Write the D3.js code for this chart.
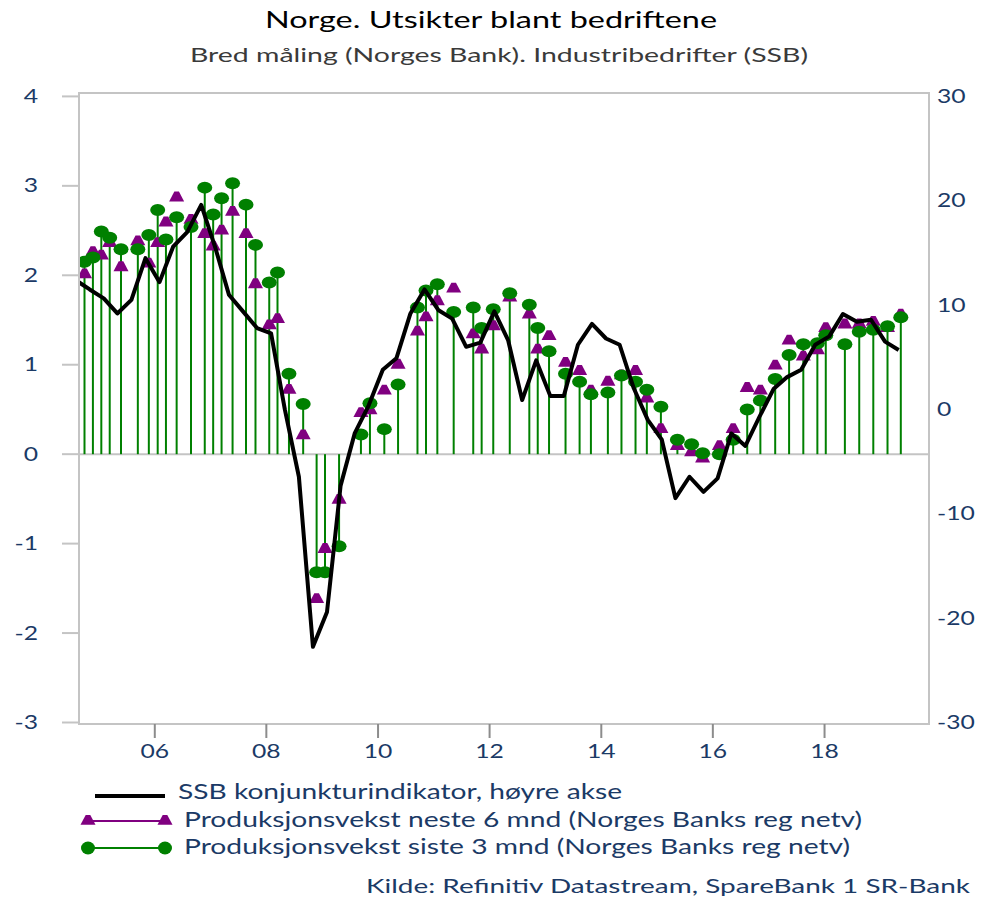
<!DOCTYPE html>
<html>
<head>
<meta charset="utf-8">
<script src="https://cdn.jsdelivr.net/npm/d3@7"></script>
<style>
  body { margin: 0; background: #fff; }
  svg text { font-family: Lato, "Open Sans", sans-serif; }
</style>
</head>
<body>
<svg id="chart"></svg>
<script>
// Norges Bank regionalt nettverk, runder
const roundDates = [
  '2004-09-28', '2004-11-22', '2005-01-16', '2005-03-12', '2005-05-25', '2005-09-12', '2005-11-23',
  '2006-01-20', '2006-03-15', '2006-05-24', '2006-08-26', '2006-11-24',
  '2007-01-18', '2007-03-14', '2007-05-25', '2007-08-21', '2007-10-22',
  '2008-01-20', '2008-03-14', '2008-05-28', '2008-08-29', '2008-11-25',
  '2009-01-19', '2009-04-21', '2009-09-11', '2009-11-09',
  '2010-02-11', '2010-05-12', '2010-09-16', '2010-11-11',
  '2011-01-24', '2011-05-11', '2011-09-16', '2011-11-10',
  '2012-01-25', '2012-05-12', '2012-09-17', '2012-11-11',
  '2013-01-24', '2013-05-12', '2013-08-12', '2013-10-25',
  '2014-02-13', '2014-05-13', '2014-08-13', '2014-10-26',
  '2015-01-26', '2015-05-14', '2015-08-15', '2015-10-26',
  '2016-02-13', '2016-05-13', '2016-08-13', '2016-11-07',
  '2017-02-12', '2017-05-14', '2017-08-15', '2017-11-15',
  '2018-01-09', '2018-05-14', '2018-08-16', '2018-11-16',
  '2019-02-17', '2019-05-15'
]
// produksjonsvekst siste 3 mnd
const siste3 = [
  2.15, 2.20, 2.49, 2.42, 2.29, 2.29, 2.45,
  2.73, 2.40, 2.65, 2.54, 2.98,
  2.68, 2.86, 3.03, 2.79, 2.34,
  1.92, 2.03, 0.90, 0.56, -1.32,
  -1.32, -1.03, 0.22, 0.57,
  0.28, 0.78, 1.64, 1.83,
  1.90, 1.59, 1.64, 1.41,
  1.62, 1.80, 1.67, 1.41,
  1.15, 0.90, 0.81, 0.67,
  0.69, 0.88, 0.81, 0.72,
  0.53, 0.16, 0.11, 0.01,
  0.00, 0.16, 0.50, 0.60,
  0.84, 1.11, 1.23, 1.24,
  1.33, 1.23, 1.37, 1.39,
  1.43, 1.53
]
// produksjonsvekst neste 6 mnd
const neste6 = [
  2.02, 2.27, 2.23, 2.37, 2.10, 2.39, 2.14,
  2.37, 2.60, 2.88, 2.63, 2.47,
  2.33, 2.51, 2.72, 2.47, 1.91,
  1.45, 1.52, 0.73, 0.22, -1.61,
  -1.05, -0.50, 0.47, 0.50,
  0.72, 1.01, 1.38, 1.54,
  1.72, 1.86, 1.35, 1.18,
  1.44, 1.76, 1.57, 1.18,
  1.33, 1.03, 0.94, 0.72,
  0.82, 0.89, 0.94, 0.63,
  0.29, 0.10, 0.03, -0.04,
  0.10, 0.29, 0.75, 0.72,
  1.00, 1.28, 1.10, 1.17,
  1.42, 1.46, 1.46, 1.49,
  1.42, 1.57
]
// SSB konjunkturindikator (kvartal, høyre akse)
const ssbDates = [
  '2004-08', '2004-11',
  '2005-02', '2005-05', '2005-08', '2005-11',
  '2006-02', '2006-05', '2006-08', '2006-11',
  '2007-02', '2007-05', '2007-08', '2007-11',
  '2008-02', '2008-05', '2008-08', '2008-11',
  '2009-02', '2009-05', '2009-08', '2009-11',
  '2010-02', '2010-05', '2010-08', '2010-11',
  '2011-02', '2011-05', '2011-08', '2011-11',
  '2012-02', '2012-05', '2012-08', '2012-11',
  '2013-02', '2013-05', '2013-08', '2013-11',
  '2014-02', '2014-05', '2014-08', '2014-11',
  '2015-02', '2015-05', '2015-08', '2015-11',
  '2016-02', '2016-05', '2016-08', '2016-11',
  '2017-02', '2017-05', '2017-08', '2017-11',
  '2018-02', '2018-05', '2018-08', '2018-11',
  '2019-02', '2019-05'
]
const ssbValues = [
  12.4, 11.5,
  10.65, 9.2, 10.5, 14.5,
  12.2, 15.6, 17.0, 19.6,
  15.5, 11.0, 9.4, 7.8,
  7.3, 0.0, -6.45, -22.75,
  -19.4, -7.3, -2.3, 0.4,
  3.8, 4.9, 9.2, 11.5,
  9.5, 8.7, 6.0, 6.4,
  9.4, 6.65, 0.9, 4.7,
  1.3, 1.3, 6.2, 8.2,
  6.8, 6.2, 2.05, -1.0,
  -2.9, -8.5, -6.45, -7.9,
  -6.6, -2.3, -3.5, -0.7,
  1.95, 3.1, 3.8, 6.2,
  7.0, 9.15, 8.4, 8.6,
  6.5, 5.7
]
const leftTicks = [-3, -2, -1, 0, 1, 2, 3, 4]
const rightTicks = [-30, -20, -10, 0, 10, 20, 30]
const xTickYears = [2006, 2008, 2010, 2012, 2014, 2016, 2018]
const legendLabels = [
  'SSB konjunkturindikator, høyre akse',
  'Produksjonsvekst neste 6 mnd (Norges Banks reg netv)',
  'Produksjonsvekst siste 3 mnd (Norges Banks reg netv)'
]

const width = 981
const height = 897
const navy = '#1b3a66'
const green = '#008000'
const purple = '#800080'
const frameColor = '#c4c4c4'

const parseDay = d3.timeParse('%Y-%m-%d')
const parseMonth = d3.timeParse('%Y-%m')

// teksten i originalen er strukket i bredden
function stretch(sel, factor) {
  sel.each(function () {
    const w = this.getComputedTextLength()
    d3.select(this)
      .attr('textLength', w * factor)
      .attr('lengthAdjust', 'spacingAndGlyphs')
  })
}

const svg = d3.select('#chart')
  .attr('width', width)
  .attr('height', height)

const plot = { left: 79, right: 929, top: 93, bottom: 724 }

const x = d3.scaleTime()
  .domain([new Date(2004, 7, 23), new Date(2019, 10, 9)])
  .range([plot.left, plot.right - 1])
const yL = d3.scaleLinear().domain([-3, 4]).range([722.5, 96.4])
const yR = d3.scaleLinear().domain([-30, 30]).range([722.5, 96.4])

// titler
svg.append('text')
  .attr('x', 491).attr('y', 28)
  .attr('text-anchor', 'middle')
  .attr('fill', '#000')
  .style('font-size', '24px')
  .text('Norge. Utsikter blant bedriftene')
  .attr('textLength', 452)
  .attr('lengthAdjust', 'spacingAndGlyphs')

svg.append('text')
  .attr('x', 499).attr('y', 62)
  .attr('text-anchor', 'middle')
  .attr('fill', '#3a3a3a')
  .style('font-size', '20px')
  .text('Bred måling (Norges Bank). Industribedrifter (SSB)')
  .attr('textLength', 618)
  .attr('lengthAdjust', 'spacingAndGlyphs')

// ramme
svg.append('rect')
  .attr('x', plot.left).attr('y', plot.top)
  .attr('width', plot.right - plot.left)
  .attr('height', plot.bottom - plot.top)
  .attr('fill', 'none')
  .attr('stroke', frameColor)
  .attr('stroke-width', 2)

// venstre akse
const left = svg.append('g')
left.selectAll('line')
  .data(leftTicks)
  .enter()
  .append('line')
  .attr('x1', 62).attr('x2', plot.left)
  .attr('y1', d => yL(d)).attr('y2', d => yL(d))
  .attr('stroke', frameColor)
  .attr('stroke-width', 2)
left.selectAll('text')
  .data(leftTicks)
  .enter()
  .append('text')
  .attr('x', 38)
  .attr('y', d => yL(d))
  .attr('dy', '0.35em')
  .attr('text-anchor', 'end')
  .attr('fill', navy)
  .style('font-size', '19px')
  .text(d => d)
  .call(stretch, 1.3)

// høyre akse
svg.append('g').selectAll('text')
  .data(rightTicks)
  .enter()
  .append('text')
  .attr('x', 937)
  .attr('y', d => yR(d))
  .attr('dy', '0.35em')
  .attr('fill', navy)
  .style('font-size', '19px')
  .text(d => d)
  .call(stretch, 1.3)

// x-akse
const bottom = svg.append('g')
bottom.selectAll('line')
  .data(xTickYears)
  .enter()
  .append('line')
  .attr('x1', d => x(new Date(d, 0, 1))).attr('x2', d => x(new Date(d, 0, 1)))
  .attr('y1', plot.bottom).attr('y2', plot.bottom + 14)
  .attr('stroke', '#8c8c8c')
  .attr('stroke-width', 2)
bottom.selectAll('text')
  .data(xTickYears)
  .enter()
  .append('text')
  .attr('x', d => x(new Date(d, 0, 1)))
  .attr('y', 758)
  .attr('text-anchor', 'middle')
  .attr('fill', navy)
  .style('font-size', '19px')
  .text(d => String(d).slice(2))
  .call(stretch, 1.3)

// nullinje
svg.append('line')
  .attr('x1', plot.left).attr('x2', plot.right)
  .attr('y1', yL(0)).attr('y2', yL(0))
  .attr('stroke', frameColor)
  .attr('stroke-width', 2)

svg.append('defs').append('clipPath')
  .attr('id', 'clip')
  .append('rect')
  .attr('x', plot.left + 1).attr('y', plot.top)
  .attr('width', plot.right - plot.left - 2)
  .attr('height', plot.bottom - plot.top)

const rounds = roundDates.map((d, i) => ({ date: parseDay(d), siste: siste3[i], neste: neste6[i] }))
const ssb = ssbDates.map((d, i) => ({ date: parseMonth(d), value: ssbValues[i] }))

const triangle = 'M-7.5,4.8L7.5,4.8L2.3,-5L-2.3,-5Z'

const marks = svg.append('g').attr('clip-path', 'url(#clip)')

// stolper for siste 3 mnd
marks.append('g')
  .selectAll('line')
  .data(rounds)
  .enter()
  .append('line')
  .attr('x1', d => x(d.date)).attr('x2', d => x(d.date))
  .attr('y1', yL(0)).attr('y2', d => yL(d.siste))
  .attr('stroke', green)
  .attr('stroke-width', 2)

// neste 6 mnd
marks.append('g')
  .selectAll('path')
  .data(rounds)
  .enter()
  .append('path')
  .attr('d', triangle)
  .attr('transform', d => `translate(${x(d.date)},${yL(d.neste)})`)
  .attr('fill', purple)

// siste 3 mnd
marks.append('g')
  .selectAll('ellipse')
  .data(rounds)
  .enter()
  .append('ellipse')
  .attr('cx', d => x(d.date))
  .attr('cy', d => yL(d.siste))
  .attr('rx', 7.5).attr('ry', 6)
  .attr('fill', green)

// SSB linje
const line = d3.line()
  .x(d => x(d.date))
  .y(d => yR(d.value))

marks.append('path')
  .datum(ssb)
  .attr('d', line)
  .attr('fill', 'none')
  .attr('stroke', '#000')
  .attr('stroke-width', 4)
  .attr('stroke-linejoin', 'round')

// tegnforklaring
const legend = svg.append('g')
legend.append('line')
  .attr('x1', 95).attr('x2', 165).attr('y1', 796).attr('y2', 796)
  .attr('stroke', '#000').attr('stroke-width', 4)
legend.append('line')
  .attr('x1', 88).attr('x2', 165).attr('y1', 821).attr('y2', 821)
  .attr('stroke', purple).attr('stroke-width', 2)
legend.selectAll('path.leg')
  .data([88, 165])
  .enter()
  .append('path')
  .attr('class', 'leg')
  .attr('d', triangle)
  .attr('transform', d => `translate(${d},${820})`)
  .attr('fill', purple)
legend.append('line')
  .attr('x1', 88).attr('x2', 165).attr('y1', 848).attr('y2', 848)
  .attr('stroke', green).attr('stroke-width', 2)
legend.selectAll('ellipse')
  .data([88, 165])
  .enter()
  .append('ellipse')
  .attr('cx', d => d).attr('cy', 848)
  .attr('rx', 7).attr('ry', 6.5)
  .attr('fill', green)

const legendWidths = [444, 678, 666]
legend.selectAll('text')
  .data(legendLabels)
  .enter()
  .append('text')
  .attr('x', (d, i) => i === 0 ? 178 : 184)
  .attr('y', (d, i) => 799 + i * 27.5)
  .attr('fill', navy)
  .style('font-size', '22px')
  .text(d => d)
  .attr('textLength', (d, i) => legendWidths[i])
  .attr('lengthAdjust', 'spacingAndGlyphs')

svg.append('text')
  .attr('x', 970).attr('y', 893)
  .attr('text-anchor', 'end')
  .attr('fill', navy)
  .style('font-size', '19px')
  .text('Kilde: Refinitiv Datastream, SpareBank 1 SR-Bank')
  .attr('textLength', 604)
  .attr('lengthAdjust', 'spacingAndGlyphs')
</script>
</body>
</html>
